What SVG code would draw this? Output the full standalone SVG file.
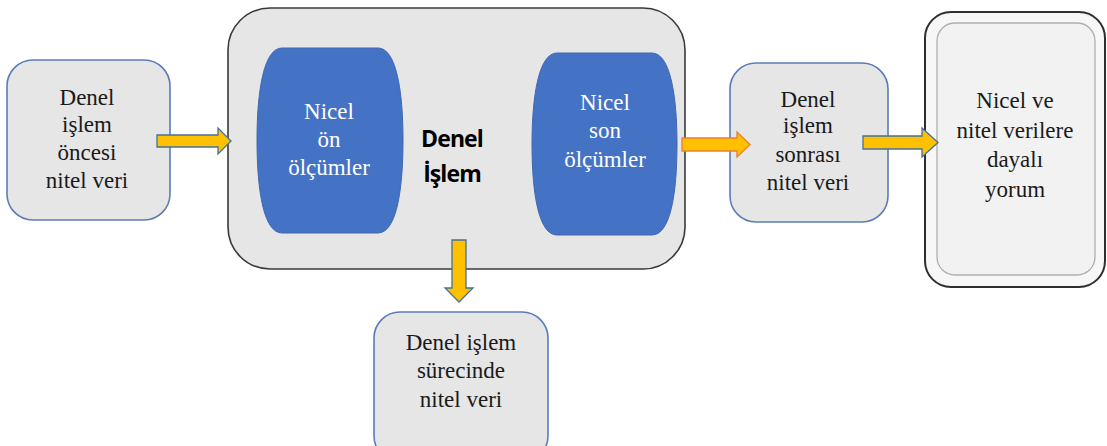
<svg xmlns="http://www.w3.org/2000/svg" width="1107" height="446" viewBox="0 0 1107 446">
<style>
.box{fill:#e6e6e6;stroke:#5b7cb6;stroke-width:1.6}
.blue{fill:#4472c4;stroke:#3f68b0;stroke-width:1}
.t{font-family:"Liberation Serif",serif;font-size:23px;fill:#1a1a1a;text-anchor:middle}
.w{font-family:"Liberation Serif",serif;font-size:23px;fill:#ffffff;text-anchor:middle}
.b{font-family:"Open Sans","Liberation Sans",sans-serif;font-weight:bold;font-size:23px;fill:#000;text-anchor:middle;letter-spacing:-0.9px}
.arr{fill:#ffc000;stroke:#41719c;stroke-width:1.3}
.arro{fill:#ffc000;stroke:#ed7d31;stroke-width:1.3}
</style>
<rect width="1107" height="446" fill="#ffffff"/>
<g id="big">
<rect x="228" y="8" width="457" height="261" rx="42" ry="42" fill="#e6e6e6" stroke="#3a3a3a" stroke-width="1.6"/>
<text class="b" x="452" y="147">Denel</text>
<text class="b" x="452" y="182">İşlem</text>
</g>
<g id="nicel-on">
<path class="blue" d="M282 48 L378 48 C396 48 403 90 403 140 C403 192 396 233 378 233 L282 233 C264 233 257 192 257 140 C257 90 264 48 282 48 Z"/>
<text class="w" x="329" y="119">Nicel</text>
<text class="w" x="329" y="147">ön</text>
<text class="w" x="329" y="175">ölçümler</text>
</g>
<g id="nicel-son">
<path class="blue" d="M557 53 L652 53 C670 53 677 95 677 144 C677 195 670 235 652 235 L557 235 C539 235 532 195 532 144 C532 95 539 53 557 53 Z"/>
<text class="w" x="605" y="110">Nicel</text>
<text class="w" x="605" y="138">son</text>
<text class="w" x="605" y="167">ölçümler</text>
</g>
<g id="oncesi">
<rect class="box" x="7" y="60" width="163" height="160" rx="26" ry="26"/>
<text class="t" x="87" y="105">Denel</text>
<text class="t" x="87" y="132">işlem</text>
<text class="t" x="87" y="160">öncesi</text>
<text class="t" x="87" y="188">nitel veri</text>
</g>
<g id="sonrasi">
<rect class="box" x="730" y="63" width="158" height="159" rx="26" ry="26"/>
<text class="t" x="808" y="107">Denel</text>
<text class="t" x="808" y="133">işlem</text>
<text class="t" x="808" y="162">sonrası</text>
<text class="t" x="808" y="190">nitel veri</text>
</g>
<g id="surecinde">
<rect class="box" x="374" y="312" width="174" height="150" rx="26" ry="26"/>
<text class="t" x="461" y="350">Denel işlem</text>
<text class="t" x="461" y="378">sürecinde</text>
<text class="t" x="461" y="407">nitel veri</text>
</g>
<g id="yorum">
<rect x="925" y="12" width="180" height="275" rx="26" ry="26" fill="#f7f7f7" stroke="#2e2e2e" stroke-width="2"/>
<rect x="937" y="23" width="158" height="252" rx="18" ry="18" fill="#f2f2f2" stroke="#b0b0b0" stroke-width="1.3"/>
<text class="t" x="1015" y="108">Nicel ve</text>
<text class="t" x="1015" y="138">nitel verilere</text>
<text class="t" x="1015" y="167">dayalı</text>
<text class="t" x="1015" y="197">yorum</text>
</g>
<g id="connectors">
<path class="arr" d="M157 135 L218 135 L218 128 L231 141 L218 154 L218 147 L157 147 Z"/>
<path class="arro" d="M682 138 L737 138 L737 132 L750 144.5 L737 157 L737 151 L682 151 Z"/>
<path class="arr" d="M863 136 L922 136 L922 128 L938 142.5 L922 157 L922 149 L863 149 Z"/>
<path class="arr" d="M452 240 L466 240 L466 288 L473 288 L459 302 L445 288 L452 288 Z"/>
</g>
</svg>
